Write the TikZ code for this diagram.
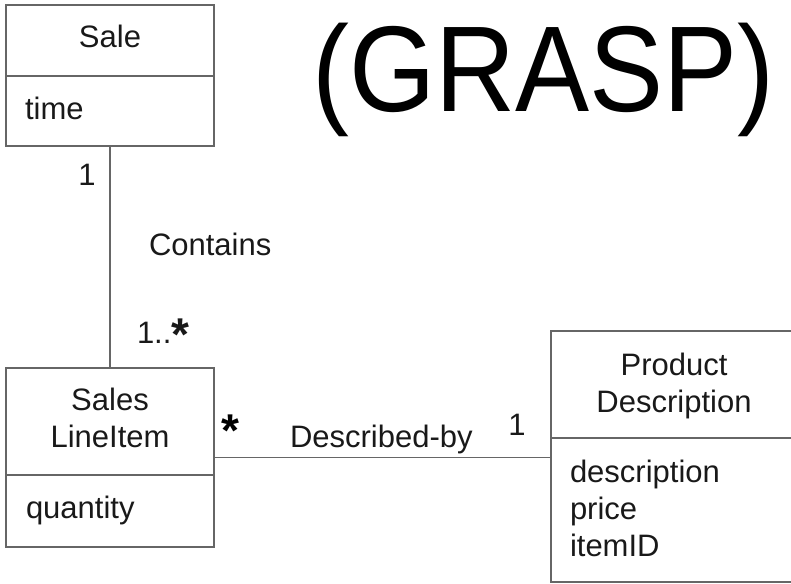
\documentclass[tikz,border=0pt]{standalone}
\usepackage{fontspec}
\setmainfont{Liberation Sans}
\begin{document}
\begin{tikzpicture}[x=1pt,y=-1pt,
  edge/.style={draw=black!60, line width=1.4pt},
  classbox/.style={draw=black!60, line width=1.4pt, rectangle, inner sep=0pt, outer sep=0pt},
  lbl/.style={font=\fontsize{31}{36}\selectfont, inner sep=0pt, outer sep=0pt, text=black!90},
  starmark/.style={font=\fontsize{46}{46}\selectfont\bfseries, inner sep=0pt, text=black},
  title/.style={font=\fontsize{122}{130}\selectfont, inner sep=0pt, text=black}]
\useasboundingbox (0,0) rectangle (791,583);
\clip (0,0) rectangle (791,583);

% class boxes
\node[classbox, minimum width=208, minimum height=141] (sale) at (110,75.5) {};
\node[classbox, minimum width=208, minimum height=179] (item) at (110,457.5) {};
\node[classbox, minimum width=246, minimum height=251] (prod) at (674,456.5) {};

% compartment dividers
\draw[edge] (6,76) -- (214,76);
\draw[edge] (6,475) -- (214,475);
\draw[edge] (551,438) -- (797,438);

% associations
\draw[edge] (sale.south) -- (item.north);
\draw[edge] (item.east) -- (item.east -| prod.west);

% class names and attributes
\node[lbl, anchor=base] (saleName) at (110,48) {Sale};
\node[lbl, anchor=base west] (saleAttr) at (25,119) {time};
\node[lbl, anchor=base] (itemName1) at (110,410) {Sales};
\node[lbl, anchor=base] (itemName2) at (110,447) {LineItem};
\node[lbl, anchor=base west] (itemAttr) at (26,518) {quantity};
\node[lbl, anchor=base] (prodName1) at (674,375) {Product};
\node[lbl, anchor=base] (prodName2) at (674,412) {Description};
\node[lbl, anchor=base west] (prodAttr1) at (570,482) {description};
\node[lbl, anchor=base west] (prodAttr2) at (570,519) {price};
\node[lbl, anchor=base west] (prodAttr3) at (570,556) {itemID};

% association labels and multiplicities
\node[lbl, anchor=base] (mSale) at (87,185) {1};
\node[lbl, anchor=base west] (contains) at (149,255) {Contains};
\node[lbl, anchor=base west] (mItem) at (137,343) {1..\raisebox{-7pt}{\fontsize{46}{46}\selectfont\bfseries *}};
\node[starmark, anchor=base west] (mItem2) at (221,446) {*};
\node[lbl, anchor=base west] (described) at (290,447) {Described-by};
\node[lbl, anchor=base] (mProd) at (517,435) {1};

% heading
\node[title, anchor=base] (grasp) at (543.5,111) {\scalebox{0.91}[1]{(GRASP)}};
\end{tikzpicture}
\end{document}
